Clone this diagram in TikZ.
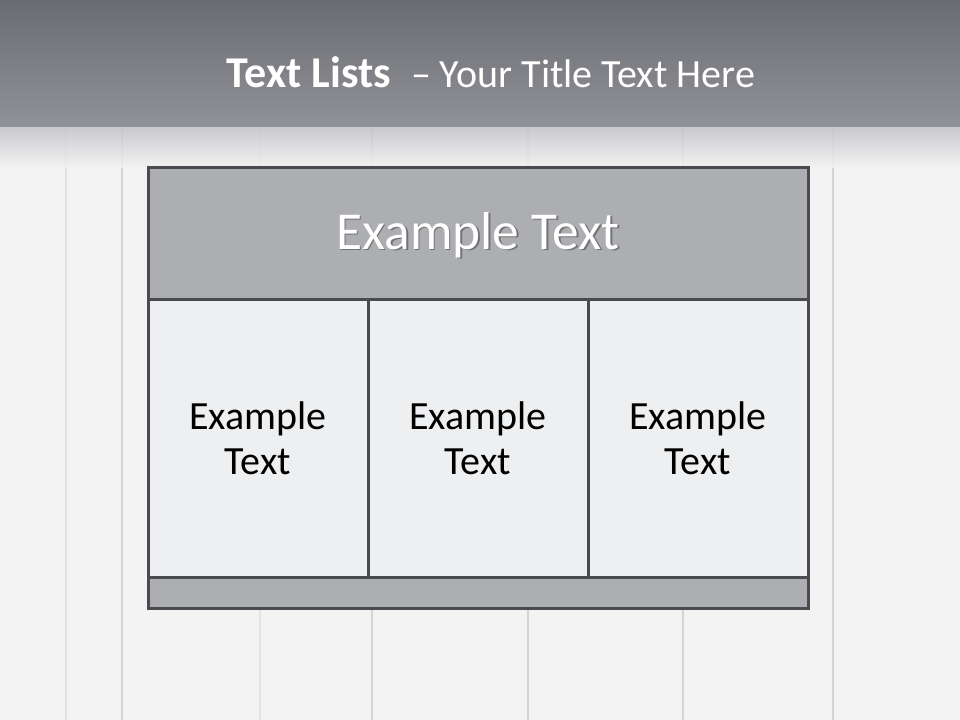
\documentclass[tikz,border=0pt]{standalone}
\usepackage{fontspec}
\setmainfont{Carlito}
\definecolor{bgw}{HTML}{F3F3F3}
\definecolor{seam}{HTML}{D4D4D6}
\definecolor{bartop}{HTML}{6B6C71}
\definecolor{barbot}{HTML}{919297}
\definecolor{fadetop}{HTML}{C2C3C7}
\definecolor{frame}{HTML}{4A4B50}
\definecolor{hdrfill}{HTML}{ADAEB2}
\definecolor{cellfill}{HTML}{EEEFF1}
\tikzset{
  boxbase/.style={draw=frame, line width=2.25pt, inner sep=0pt, outer sep=0pt},
  hdrbox/.style={boxbase, fill=hdrfill, minimum width=495pt, minimum height=99pt},
  cellbox/.style={boxbase, fill=cellfill, minimum width=165pt, minimum height=207.75pt,
     align=center, font=\fontsize{30}{34}\selectfont, text=black},
  footbox/.style={boxbase, fill=hdrfill, minimum width=495pt, minimum height=23.25pt},
  hdrtext/.style={text=white, font=\fontsize{40}{46}\selectfont},
  seamline/.style={draw=seam, line width=1.5pt},
}
\begin{document}
\begin{tikzpicture}[x=0.75pt,y=-0.75pt]
\useasboundingbox (0,0) rectangle (960,720);
\fill[bgw] (0,0) rectangle (960,720);
% plank seams
\foreach \sx in {122,372,528,683,833}{
  \draw[seamline] (\sx,127) -- (\sx,720);
}
\draw[seamline, draw opacity=0.5] (260,127) -- (260,720);
\draw[seamline, draw opacity=0.5] (66,127) -- (66,720);
% fade below title bar
\shade[top color=fadetop, bottom color=bgw, fill opacity=0.85] (0,127) rectangle (960,168);
% title bar
\shade[top color=bartop, bottom color=barbot] (0,0) rectangle (960,127);
\node[text=white, anchor=base] (title) at (491,88)
  {\fontsize{33}{38}\selectfont\bfseries Text Lists\ \ \fontsize{30}{34}\mdseries\selectfont– Your Title Text Here};
% box
\node[hdrbox] (head) at (478,234) {};
\node[hdrtext, text=black!70, opacity=0.6] (headshadow) at (479.5,236.5) {Example Text};
\node[hdrtext] (headtext) at (478,235) {Example Text};
\node[cellbox] (c1) at (258,438.5) {Example\\Text};
\node[cellbox] (c2) at (478,438.5) {Example\\Text};
\node[cellbox] (c3) at (698,438.5) {Example\\Text};
\node[footbox] (foot) at (478,592.5) {};
\end{tikzpicture}
\end{document}
